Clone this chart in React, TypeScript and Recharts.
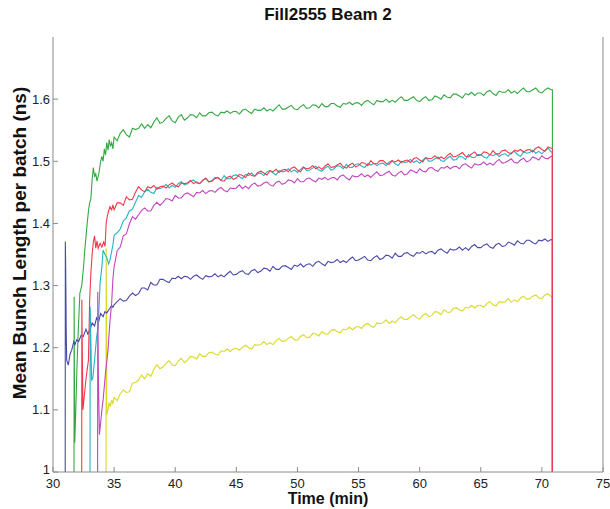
import React from 'react';
import { LineChart, Line, XAxis, YAxis } from 'recharts';

const X_TICKS = [30, 35, 40, 45, 50, 55, 60, 65, 70, 75];
const Y_TICKS = [1, 1.1, 1.2, 1.3, 1.4, 1.5, 1.6];
const GRID_START = 35;
const GRID_STEP = 0.25;
const END_TIME = 70.86;
const BASE = 1.0;

const GREEN_EARLY: [number, number][] = [
  [31.72, 1.0], [31.73, 1.282], [31.75, 1.164], [31.78, 1.047], [31.85, 1.09], [31.95, 1.16],
  [32.05, 1.22], [32.2, 1.288], [32.35, 1.3], [32.5, 1.33], [32.6, 1.357], [32.75, 1.39],
  [32.9, 1.42], [33.0, 1.433], [33.1, 1.44], [33.2, 1.47], [33.3, 1.49], [33.4, 1.475],
  [33.5, 1.48], [33.6, 1.468], [33.75, 1.48], [33.9, 1.5], [34.0, 1.508], [34.1, 1.5],
  [34.2, 1.52], [34.3, 1.51], [34.4, 1.53], [34.5, 1.518], [34.6, 1.535], [34.7, 1.524],
  [34.8, 1.53], [34.9, 1.52],
];
const GREEN_VALUES = [
  1.539, 1.533, 1.545, 1.551, 1.543, 1.539, 1.553, 1.551,
  1.553, 1.560, 1.553, 1.559, 1.554, 1.563, 1.570, 1.561,
  1.563, 1.569, 1.573, 1.565, 1.562, 1.571, 1.575, 1.566,
  1.570, 1.575, 1.574, 1.570, 1.578, 1.573, 1.573, 1.578,
  1.579, 1.575, 1.573, 1.579, 1.578, 1.581, 1.577, 1.580,
  1.580, 1.576, 1.582, 1.584, 1.580, 1.577, 1.584, 1.582,
  1.582, 1.586, 1.581, 1.584, 1.581, 1.586, 1.591, 1.584,
  1.584, 1.587, 1.590, 1.584, 1.583, 1.588, 1.591, 1.585,
  1.586, 1.591, 1.590, 1.586, 1.593, 1.588, 1.588, 1.593,
  1.593, 1.589, 1.587, 1.593, 1.592, 1.595, 1.591, 1.594,
  1.594, 1.590, 1.596, 1.598, 1.594, 1.591, 1.598, 1.596,
  1.596, 1.600, 1.595, 1.598, 1.595, 1.600, 1.604, 1.598,
  1.598, 1.601, 1.604, 1.598, 1.596, 1.601, 1.604, 1.598,
  1.599, 1.605, 1.603, 1.600, 1.607, 1.603, 1.602, 1.608,
  1.608, 1.605, 1.602, 1.609, 1.607, 1.611, 1.606, 1.610,
  1.610, 1.606, 1.612, 1.614, 1.609, 1.606, 1.613, 1.611,
  1.611, 1.615, 1.610, 1.613, 1.609, 1.614, 1.618, 1.612,
  1.612, 1.615, 1.618, 1.612, 1.610, 1.615, 1.618, 1.615,
];

const RED_EARLY: [number, number][] = [
  [32.35, 1.0], [32.36, 1.277], [32.38, 1.232], [32.45, 1.1], [32.55, 1.12], [32.7, 1.15],
  [32.9, 1.18], [33.0, 1.277], [33.1, 1.32], [33.2, 1.35], [33.3, 1.37], [33.4, 1.38],
  [33.5, 1.36], [33.6, 1.372], [33.7, 1.36], [33.85, 1.368], [34.0, 1.362], [34.15, 1.37],
  [34.26, 1.363], [34.35, 1.4], [34.45, 1.412], [34.55, 1.42], [34.66, 1.427], [34.8, 1.422],
  [34.9, 1.43],
];
const RED_VALUES = [
  1.422, 1.433, 1.433, 1.429, 1.443, 1.438, 1.439, 1.450,
  1.459, 1.454, 1.451, 1.459, 1.457, 1.461, 1.455, 1.459,
  1.460, 1.457, 1.462, 1.465, 1.461, 1.459, 1.465, 1.464,
  1.465, 1.469, 1.464, 1.467, 1.464, 1.469, 1.473, 1.467,
  1.468, 1.472, 1.474, 1.469, 1.468, 1.474, 1.476, 1.471,
  1.473, 1.479, 1.477, 1.474, 1.481, 1.477, 1.476, 1.482,
  1.484, 1.481, 1.478, 1.485, 1.483, 1.487, 1.482, 1.486,
  1.487, 1.483, 1.489, 1.491, 1.486, 1.483, 1.490, 1.488,
  1.489, 1.493, 1.488, 1.491, 1.487, 1.492, 1.496, 1.490,
  1.491, 1.494, 1.497, 1.491, 1.489, 1.494, 1.497, 1.491,
  1.493, 1.498, 1.497, 1.493, 1.501, 1.496, 1.496, 1.501,
  1.501, 1.497, 1.495, 1.501, 1.499, 1.502, 1.498, 1.501,
  1.502, 1.498, 1.504, 1.506, 1.502, 1.499, 1.506, 1.504,
  1.505, 1.509, 1.504, 1.507, 1.504, 1.509, 1.513, 1.507,
  1.508, 1.511, 1.514, 1.508, 1.507, 1.512, 1.515, 1.509,
  1.510, 1.515, 1.514, 1.510, 1.517, 1.512, 1.512, 1.517,
  1.518, 1.514, 1.512, 1.518, 1.516, 1.519, 1.515, 1.518,
  1.519, 1.515, 1.521, 1.523, 1.519, 1.516, 1.523, 1.521,
];

const CYAN_EARLY: [number, number][] = [
  [33.03, 1.0], [33.04, 1.266], [33.06, 1.25], [33.16, 1.148], [33.25, 1.15], [33.4, 1.18],
  [33.57, 1.218], [33.7, 1.234], [33.85, 1.304], [34.0, 1.33], [34.1, 1.357], [34.25, 1.35],
  [34.4, 1.345], [34.55, 1.335], [34.66, 1.341], [34.8, 1.355], [34.9, 1.365],
];
const CYAN_VALUES = [
  1.381, 1.385, 1.391, 1.404, 1.409, 1.420, 1.423, 1.434,
  1.445, 1.442, 1.451, 1.455, 1.450, 1.448, 1.458, 1.456,
  1.458, 1.463, 1.457, 1.461, 1.458, 1.464, 1.467, 1.462,
  1.464, 1.468, 1.470, 1.465, 1.464, 1.470, 1.472, 1.467,
  1.469, 1.474, 1.473, 1.469, 1.477, 1.472, 1.472, 1.477,
  1.478, 1.475, 1.472, 1.479, 1.477, 1.481, 1.476, 1.480,
  1.481, 1.477, 1.483, 1.485, 1.481, 1.478, 1.485, 1.483,
  1.484, 1.488, 1.483, 1.486, 1.482, 1.487, 1.491, 1.485,
  1.486, 1.489, 1.492, 1.486, 1.484, 1.489, 1.492, 1.486,
  1.488, 1.493, 1.492, 1.488, 1.495, 1.490, 1.490, 1.495,
  1.496, 1.492, 1.490, 1.496, 1.494, 1.497, 1.493, 1.496,
  1.497, 1.493, 1.499, 1.501, 1.496, 1.493, 1.500, 1.498,
  1.499, 1.503, 1.498, 1.501, 1.497, 1.502, 1.506, 1.500,
  1.501, 1.504, 1.507, 1.501, 1.500, 1.505, 1.508, 1.502,
  1.503, 1.508, 1.507, 1.503, 1.511, 1.506, 1.506, 1.511,
  1.511, 1.507, 1.505, 1.511, 1.509, 1.512, 1.508, 1.511,
  1.512, 1.508, 1.514, 1.516, 1.511, 1.508, 1.515, 1.513,
  1.514, 1.518, 1.513, 1.516, 1.512, 1.517, 1.521, 1.515,
];

const MAGENTA_EARLY: [number, number][] = [
  [33.65, 1.0], [33.66, 1.29], [33.72, 1.143], [33.8, 1.06], [33.9, 1.08], [34.0, 1.1],
  [34.1, 1.116], [34.3, 1.16], [34.5, 1.196], [34.65, 1.24], [34.8, 1.272], [34.9, 1.31],
];
const MAGENTA_VALUES = [
  1.330, 1.356, 1.362, 1.380, 1.383, 1.399, 1.411, 1.407,
  1.414, 1.421, 1.425, 1.420, 1.420, 1.429, 1.434, 1.429,
  1.434, 1.440, 1.439, 1.436, 1.445, 1.441, 1.441, 1.447,
  1.449, 1.446, 1.443, 1.450, 1.449, 1.453, 1.448, 1.452,
  1.453, 1.450, 1.455, 1.458, 1.453, 1.451, 1.457, 1.456,
  1.457, 1.462, 1.456, 1.460, 1.456, 1.462, 1.465, 1.460,
  1.461, 1.465, 1.467, 1.462, 1.460, 1.466, 1.468, 1.463,
  1.465, 1.470, 1.469, 1.465, 1.472, 1.467, 1.467, 1.472,
  1.473, 1.469, 1.467, 1.473, 1.471, 1.474, 1.470, 1.473,
  1.474, 1.470, 1.476, 1.478, 1.473, 1.470, 1.477, 1.475,
  1.476, 1.480, 1.475, 1.478, 1.474, 1.479, 1.483, 1.477,
  1.478, 1.481, 1.484, 1.478, 1.476, 1.481, 1.484, 1.478,
  1.480, 1.486, 1.484, 1.481, 1.488, 1.484, 1.483, 1.489,
  1.490, 1.486, 1.484, 1.490, 1.489, 1.492, 1.488, 1.491,
  1.492, 1.488, 1.494, 1.496, 1.492, 1.489, 1.496, 1.494,
  1.495, 1.499, 1.494, 1.497, 1.494, 1.499, 1.503, 1.497,
  1.498, 1.501, 1.504, 1.498, 1.497, 1.502, 1.505, 1.499,
  1.501, 1.507, 1.505, 1.502, 1.509, 1.505, 1.504, 1.508,
];

const BLUE_EARLY: [number, number][] = [
  [31.0, 1.0], [31.01, 1.371], [31.04, 1.325], [31.08, 1.23], [31.12, 1.18], [31.25, 1.172],
  [31.4, 1.19], [31.53, 1.196], [31.7, 1.21], [31.8, 1.205], [31.94, 1.213], [32.1, 1.21],
  [32.3, 1.22], [32.48, 1.218], [32.7, 1.23], [32.85, 1.222], [33.03, 1.229], [33.2, 1.24],
  [33.4, 1.235], [33.57, 1.248], [33.75, 1.243], [33.9, 1.255], [34.1, 1.25], [34.25, 1.258],
  [34.4, 1.256], [34.6, 1.262], [34.8, 1.268], [34.9, 1.265],
];
const BLUE_VALUES = [
  1.269, 1.274, 1.279, 1.275, 1.276, 1.283, 1.288, 1.284,
  1.287, 1.296, 1.296, 1.293, 1.305, 1.301, 1.301, 1.310,
  1.310, 1.307, 1.305, 1.312, 1.311, 1.315, 1.311, 1.315,
  1.314, 1.310, 1.315, 1.317, 1.313, 1.310, 1.316, 1.314,
  1.315, 1.319, 1.314, 1.317, 1.314, 1.319, 1.323, 1.317,
  1.318, 1.322, 1.324, 1.319, 1.318, 1.324, 1.326, 1.321,
  1.323, 1.328, 1.327, 1.323, 1.331, 1.326, 1.326, 1.331,
  1.332, 1.329, 1.326, 1.333, 1.331, 1.335, 1.330, 1.334,
  1.335, 1.331, 1.337, 1.339, 1.335, 1.332, 1.339, 1.337,
  1.338, 1.342, 1.337, 1.340, 1.337, 1.342, 1.346, 1.340,
  1.341, 1.344, 1.347, 1.341, 1.340, 1.345, 1.348, 1.342,
  1.344, 1.349, 1.348, 1.344, 1.352, 1.347, 1.347, 1.352,
  1.353, 1.349, 1.347, 1.353, 1.352, 1.355, 1.351, 1.354,
  1.355, 1.351, 1.357, 1.359, 1.355, 1.352, 1.359, 1.357,
  1.358, 1.362, 1.357, 1.361, 1.357, 1.363, 1.366, 1.361,
  1.361, 1.365, 1.367, 1.362, 1.360, 1.366, 1.368, 1.363,
  1.364, 1.370, 1.368, 1.365, 1.372, 1.368, 1.367, 1.373,
  1.373, 1.369, 1.367, 1.373, 1.372, 1.375, 1.371, 1.374,
];

const YELLOW_EARLY: [number, number][] = [
  [34.34, 1.0], [34.35, 1.36], [34.38, 1.25], [34.4, 1.092], [34.5, 1.1], [34.6, 1.112],
  [34.7, 1.105], [34.8, 1.116], [34.9, 1.11],
];
const YELLOW_VALUES = [
  1.120, 1.115, 1.126, 1.132, 1.128, 1.129, 1.143, 1.144,
  1.148, 1.156, 1.150, 1.158, 1.154, 1.165, 1.173, 1.166,
  1.169, 1.175, 1.179, 1.172, 1.171, 1.179, 1.183, 1.176,
  1.180, 1.186, 1.185, 1.182, 1.190, 1.186, 1.186, 1.192,
  1.193, 1.190, 1.188, 1.195, 1.194, 1.198, 1.194, 1.198,
  1.199, 1.196, 1.201, 1.204, 1.200, 1.198, 1.205, 1.204,
  1.205, 1.210, 1.205, 1.208, 1.205, 1.211, 1.215, 1.210,
  1.211, 1.215, 1.218, 1.213, 1.212, 1.218, 1.221, 1.216,
  1.217, 1.223, 1.222, 1.219, 1.226, 1.222, 1.222, 1.228,
  1.229, 1.226, 1.224, 1.230, 1.229, 1.233, 1.229, 1.233,
  1.234, 1.231, 1.237, 1.239, 1.235, 1.233, 1.240, 1.239,
  1.240, 1.245, 1.239, 1.243, 1.240, 1.246, 1.250, 1.245,
  1.246, 1.250, 1.253, 1.248, 1.246, 1.252, 1.255, 1.250,
  1.252, 1.258, 1.257, 1.253, 1.261, 1.257, 1.257, 1.263,
  1.264, 1.261, 1.259, 1.265, 1.264, 1.268, 1.264, 1.268,
  1.268, 1.265, 1.271, 1.274, 1.269, 1.267, 1.274, 1.273,
  1.274, 1.279, 1.273, 1.277, 1.274, 1.280, 1.283, 1.278,
  1.279, 1.283, 1.285, 1.280, 1.279, 1.285, 1.287, 1.282,
];

type Pt = { t: number; v: number };

function buildSeries(early: [number, number][], values: number[]): Pt[] {
  const pts: Pt[] = early.map(([t, v]) => ({ t, v }));
  values.forEach((v, i) => pts.push({ t: GRID_START + i * GRID_STEP, v }));
  pts.push({ t: END_TIME, v: values[values.length - 1] });
  pts.push({ t: END_TIME, v: BASE });
  return pts;
}

const SERIES = [
  { name: 'green', color: '#35a843', data: buildSeries(GREEN_EARLY, GREEN_VALUES) },
  { name: 'yellow', color: '#d9d928', data: buildSeries(YELLOW_EARLY, YELLOW_VALUES) },
  { name: 'blue', color: '#4a4aaa', data: buildSeries(BLUE_EARLY, BLUE_VALUES) },
  { name: 'cyan', color: '#25b4c4', data: buildSeries(CYAN_EARLY, CYAN_VALUES) },
  { name: 'magenta', color: '#c445c0', data: buildSeries(MAGENTA_EARLY, MAGENTA_VALUES) },
  { name: 'red', color: '#ef3b4b', data: buildSeries(RED_EARLY, RED_VALUES) },
];

const FONT = '"Liberation Sans", Arial, Helvetica, sans-serif';
const AXIS_COLOR = '#8a8a8a';
const TICK_STYLE = { fill: '#222', fontSize: 13, fontFamily: FONT };

function YTick(props: any) {
  const { x, y, payload } = props;
  const shift = payload.value === 1 ? -3 : 0;
  return (
    <text x={x} y={y + shift} dy="0.355em" textAnchor="end" fill="#222" fontSize={13} fontFamily={FONT}>
      {String(payload.value)}
    </text>
  );
}

export default function App() {
  return (
    <div style={{ position: 'absolute', left: 0, top: 0, width: 610, height: 509, background: '#fff', fontFamily: FONT }}>
      <LineChart width={610} height={509} margin={{ top: 37, right: 0, bottom: 0, left: 0 }}>
        <XAxis
          xAxisId="b"
          dataKey="t"
          type="number"
          domain={[30, 75]}
          ticks={X_TICKS}
          allowDataOverflow
          height={37}
          stroke={AXIS_COLOR}
          tickSize={-5}
          tickMargin={12}
          tick={TICK_STYLE}
          interval={0}
        />
        <XAxis
          xAxisId="t"
          orientation="top"
          type="number"
          domain={[30, 75]}
          ticks={X_TICKS}
          allowDataOverflow
          height={0}
          stroke={AXIS_COLOR}
          tickSize={-5}
          tick={false}
        />
        <YAxis
          yAxisId="l"
          type="number"
          domain={[1, 1.7]}
          ticks={Y_TICKS}
          allowDataOverflow
          width={53}
          stroke={AXIS_COLOR}
          tickSize={-5}
          tickMargin={8}
          tick={<YTick />}
          interval={0}
        />
        <YAxis
          yAxisId="r"
          orientation="right"
          type="number"
          domain={[1, 1.7]}
          ticks={Y_TICKS}
          allowDataOverflow
          width={7}
          stroke={AXIS_COLOR}
          tickSize={-5}
          tick={false}
        />
        {SERIES.map((s) => (
          <Line
            key={s.name}
            xAxisId="b"
            yAxisId="l"
            data={s.data}
            dataKey="v"
            type="linear"
            stroke={s.color}
            strokeWidth={1.1}
            dot={false}
            activeDot={false}
            isAnimationActive={false}
          />
        ))}
      </LineChart>
      <div style={{ position: 'absolute', left: 0, width: 656, top: 5, textAlign: 'center', fontSize: 17, fontWeight: 'bold', lineHeight: '19px', color: '#111' }}>
        Fill2555 Beam 2
      </div>
      <div style={{ position: 'absolute', left: 0, width: 656, top: 490, textAlign: 'center', fontSize: 16, fontWeight: 'bold', lineHeight: '18px', color: '#111' }}>
        Time (min)
      </div>
      <div style={{ position: 'absolute', left: 19, top: 243, transform: 'translate(-50%, -50%) rotate(-90deg)', whiteSpace: 'nowrap', fontSize: 19, fontWeight: 'bold', lineHeight: '21px', color: '#111' }}>
        Mean Bunch Length per batch (ns)
      </div>
    </div>
  );
}
